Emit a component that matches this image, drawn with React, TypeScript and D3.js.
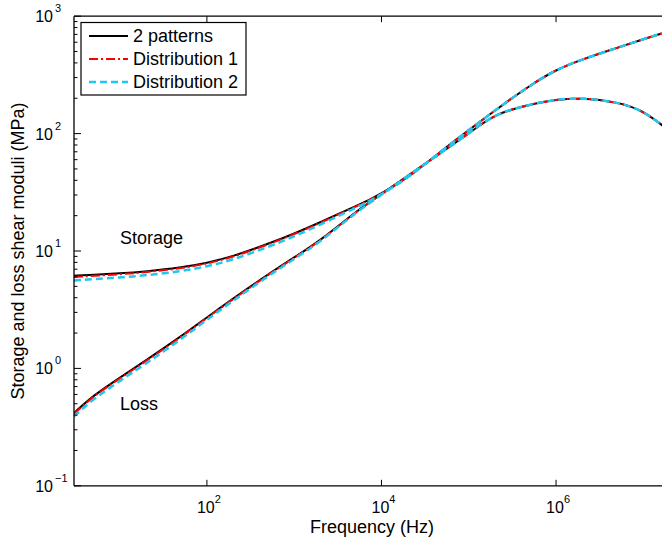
import * as d3 from "d3";

// frequencies (Hz) shared by all series
const freqs = [
  3, 5, 10, 20, 50, 100, 200, 500, 1e3, 2e3, 5e3, 7.3e3, 1e4, 2e4, 5e4, 1e5,
  2e5, 5e5, 1e6, 2e6, 5e6, 1e7, 2e7,
];

// 2 patterns (reference)
const storageRef = [
  6.15, 6.27, 6.44, 6.7, 7.21, 7.9, 9.0, 11.48, 14.06, 17.58, 24.0, 27.3,
  30.9, 41.7, 72.4, 107, 158, 257, 351, 430, 537, 638, 748,
];
const lossRef = [
  0.417, 0.589, 0.832, 1.17, 1.862, 2.72, 3.94, 6.31, 8.81, 12.3, 21.4, 26,
  30.5, 43.7, 70, 100, 148, 177, 195, 202, 186, 158, 105,
];

// Distribution 1
const storageD1 = [
  6.0, 6.15, 6.33, 6.6, 7.1, 7.78, 8.88, 11.35, 13.9, 17.4, 23.8, 27.1, 30.8,
  41.7, 72.4, 107, 158, 257, 351, 430, 537, 638, 748,
];
const lossD1 = [
  0.41, 0.58, 0.82, 1.15, 1.84, 2.69, 3.9, 6.25, 8.75, 12.2, 21.3, 25.9, 30.4,
  43.7, 70, 100, 148, 177, 195, 202, 186, 158, 105,
];

// Distribution 2
const storageD2 = [
  5.6, 5.75, 5.95, 6.2, 6.7, 7.38, 8.42, 10.8, 13.3, 16.8, 23.2, 26.6, 30.4,
  41.7, 72.4, 107, 158, 257, 351, 430, 537, 638, 748,
];
const lossD2 = [
  0.39, 0.55, 0.78, 1.1, 1.76, 2.6, 3.78, 6.1, 8.55, 12.0, 21.0, 25.6, 30.1,
  43.7, 70, 100, 148, 177, 195, 202, 186, 158, 105,
];

const xTicks = [1e2, 1e4, 1e6];
const yTicks = [1e-1, 1e0, 1e1, 1e2, 1e3];

const legendItems = ["2 patterns", "Distribution 1", "Distribution 2"];

const W = 662;
const H = 541;
const left = 74;
const right = 669.6;
const top = 16.2;
const bottom = 485.8;
const font = "'Liberation Sans', Arial, Helvetica, sans-serif";

const styles = [
  { color: "#000000", width: 2, dash: "none" },
  { color: "#ff0000", width: 2, dash: "9,3,2,3" },
  { color: "#1ec8f0", width: 2.5, dash: "7,4" },
];

export default function App() {
  const x = d3.scaleLog().domain([3, 2e7]).range([left, right]);
  const y = d3.scaleLog().domain([0.1, 1000]).range([bottom, top]);

  const line = d3
    .line<[number, number]>()
    .x((d) => x(d[0]))
    .y((d) => y(d[1]))
    .curve(d3.curveBasis);

  const pairs = (vals: number[]) =>
    freqs.map((f, i) => [f, vals[i]] as [number, number]);

  const series = [
    [storageRef, lossRef],
    [storageD1, lossD1],
    [storageD2, lossD2],
  ];

  // minor ticks on the y axis
  const yMinor: number[] = [];
  for (let e = -1; e < 3; e++) {
    for (let k = 2; k <= 9; k++) yMinor.push(k * Math.pow(10, e));
  }

  const expLabel = (t: number) => {
    const e = Math.round(Math.log10(t));
    return e < 0 ? "\u2212" + Math.abs(e) : String(e);
  };

  return (
    <svg
      width={W}
      height={H}
      style={{ position: "absolute", left: 0, top: 0, background: "#fff" }}
      fontFamily={font}
    >
      <defs>
        <clipPath id="plot">
          <rect x={left} y={top} width={right - left} height={bottom - top} />
        </clipPath>
      </defs>
      <rect x={0} y={0} width={W} height={H} fill="#fff" />

      {/* curves */}
      <g clipPath="url(#plot)" fill="none">
        {series.map((s, i) =>
          s.map((vals, j) => (
            <path
              key={`${i}-${j}`}
              d={line(pairs(vals)) as string}
              stroke={styles[i].color}
              strokeWidth={styles[i].width}
              strokeDasharray={styles[i].dash}
            />
          ))
        )}
      </g>

      {/* axes box */}
      <g stroke="#000" strokeWidth={1.3} fill="none">
        <line x1={left} x2={right} y1={bottom} y2={bottom} />
        <line x1={left} x2={right} y1={top} y2={top} />
        <line x1={left} x2={left} y1={top} y2={bottom} />
        <line x1={right} x2={right} y1={top} y2={bottom} />
      </g>

      {/* x ticks */}
      <g stroke="#000" strokeWidth={1}>
        {xTicks.map((t) => (
          <g key={t}>
            <line x1={x(t)} x2={x(t)} y1={bottom} y2={bottom - 6} />
            <line x1={x(t)} x2={x(t)} y1={top} y2={top + 6} />
          </g>
        ))}
      </g>
      {xTicks.map((t) => (
        <text key={t} x={x(t) + 2} y={512.5} fontSize={16} textAnchor="middle">
          10
          <tspan fontSize={11} dy={-10}>
            {expLabel(t)}
          </tspan>
        </text>
      ))}

      {/* y ticks */}
      <g stroke="#000" strokeWidth={1}>
        {yTicks.map((t) => (
          <line key={t} x1={left} x2={left + 7} y1={y(t)} y2={y(t)} />
        ))}
        {yMinor.map((t) => (
          <line key={t} x1={left} x2={left + 3.5} y1={y(t)} y2={y(t)} />
        ))}
      </g>
      {yTicks.map((t) => (
        <text key={t} x={53} y={y(t) + 6} fontSize={16} textAnchor="end">
          10
        </text>
      ))}
      {yTicks.map((t) => (
        <text key={t} x={55} y={y(t) - 4} fontSize={11}>
          {expLabel(t)}
        </text>
      ))}

      {/* axis labels */}
      <text x={372} y={533} fontSize={18} textAnchor="middle">
        Frequency (Hz)
      </text>
      <text
        transform={`translate(24,${(top + bottom) / 2}) rotate(-90)`}
        fontSize={18}
        textAnchor="middle"
      >
        Storage and loss shear moduli (MPa)
      </text>

      {/* curve annotations */}
      <text x={120} y={244} fontSize={18}>
        Storage
      </text>
      <text x={120} y={410} fontSize={18}>
        Loss
      </text>

      {/* legend */}
      <rect
        x={81}
        y={22.5}
        width={165}
        height={72.5}
        fill="#fff"
        stroke="#000"
        strokeWidth={1.2}
      />
      {legendItems.map((name, i) => {
        const cy = 36 + i * 23;
        return (
          <g key={name}>
            <line
              x1={89}
              x2={128}
              y1={cy}
              y2={cy}
              stroke={styles[i].color}
              strokeWidth={styles[i].width}
              strokeDasharray={styles[i].dash}
            />
            <text x={133} y={cy + 6} fontSize={18}>
              {name}
            </text>
          </g>
        );
      })}
    </svg>
  );
}
